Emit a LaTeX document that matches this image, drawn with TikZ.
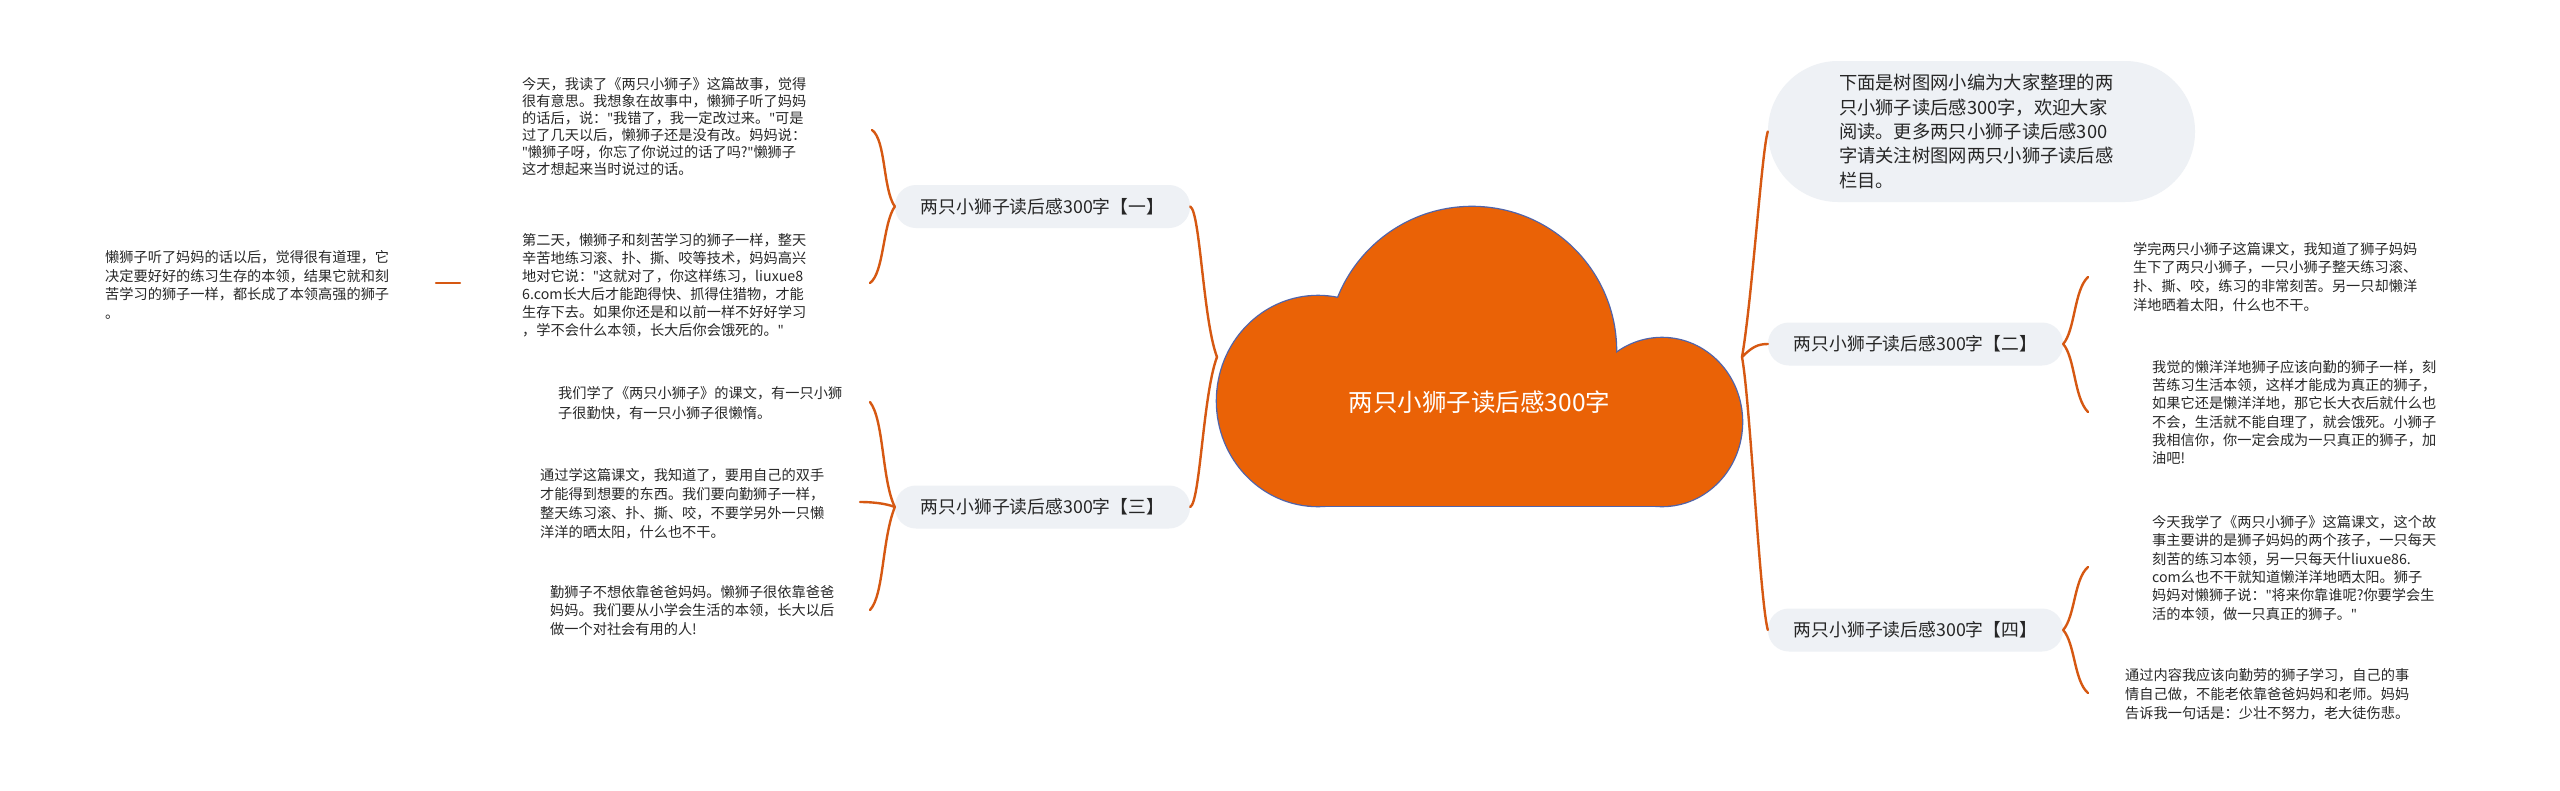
\documentclass[tikz,border=0pt]{standalone}
\usepackage{fontspec}
\setmainfont{Noto Sans CJK SC}
\newfontfamily\latinq{Noto Sans}
\newcommand{\q}{{\latinq"}}
\definecolor{cloudfill}{RGB}{234,98,6}
\definecolor{cloudedge}{RGB}{80,100,170}
\definecolor{connc}{RGB}{214,88,18}
\definecolor{topicfill}{RGB}{238,241,245}
\definecolor{leaftext}{RGB}{40,40,40}
\tikzset{
  leaf/.style={anchor=west, align=left, inner sep=0pt, text=leaftext, font=\fontsize{14.2}{18}\selectfont},
  topic/.style={fill=topicfill, rounded corners=21pt, minimum width=295pt, minimum height=43pt, inner sep=0pt, text=black!85, font=\fontsize{17.8}{22}\selectfont},
  conn/.style={draw=connc, line width=2.4pt, line cap=round},
}
\begin{document}
\begin{tikzpicture}[x=1pt,y=-1pt]
\fill[white] (0,0) rectangle (2560,790);
\useasboundingbox (0,0) rectangle (2560,790);

% ---- cloud (root) ----
\draw[cloudedge, line width=2.6pt] (1318,401) ellipse [x radius=101, y radius=105];
\draw[cloudedge, line width=2.6pt] (1472,351) circle [radius=144];
\draw[cloudedge, line width=2.6pt] (1662,422) ellipse [x radius=80, y radius=84];
\draw[cloudedge, line width=2.6pt] (1318,400) rectangle (1662,506);
\fill[cloudfill] (1318,401) ellipse [x radius=101, y radius=105];
\fill[cloudfill] (1472,351) circle [radius=144];
\fill[cloudfill] (1662,422) ellipse [x radius=80, y radius=84];
\fill[cloudfill] (1318,400) rectangle (1662,506);
\node[text=white, font=\fontsize{24.5}{28}\selectfont, inner sep=0pt] (root) at (1479.5,402) {两只小狮子读后感300字};
\coordinate (tipL) at (1217,357);
\coordinate (tipR) at (1742,357);

% ---- topics ----
\node[topic] (n1) at (1042.5,206.5) {两只小狮子读后感300字【一】};
\node[topic] (n3) at (1042.5,507) {两只小狮子读后感300字【三】};
\node[topic] (n2) at (1915.5,344) {两只小狮子读后感300字【二】};
\node[topic] (n4) at (1915.5,630) {两只小狮子读后感300字【四】};
\node[fill=topicfill, rounded corners=70pt, minimum width=427pt, minimum height=141pt, inner sep=0pt,
      text width=285pt, align=left, text=black!85, font=\fontsize{18.3}{24.4}\selectfont] (intro) at (1981.5,131.5)
  {下面是树图网小编为大家整理的两\\只小狮子读后感300字，欢迎大家\\阅读。更多两只小狮子读后感300\\字请关注树图网两只小狮子读后感\\栏目。};

% ---- leaves ----
\node[leaf, font=\fontsize{14.2}{17}\selectfont] (l1a) at (522,126.5) {今天，我读了《两只小狮子》这篇故事，觉得\\很有意思。我想象在故事中，懒狮子听了妈妈\\的话后，说：\q 我错了，我一定改过来。\q 可是\\过了几天以后，懒狮子还是没有改。妈妈说：\\\q 懒狮子呀，你忘了你说过的话了吗?\q 懒狮子\\这才想起来当时说过的话。};
\node[leaf] (l1b) at (522,285) {第二天，懒狮子和刻苦学习的狮子一样，整天\\辛苦地练习滚、扑、撕、咬等技术，妈妈高兴\\地对它说：\q 这就对了，你这样练习，liuxue8\\6.com长大后才能跑得快、抓得住猎物，才能\\生存下去。如果你还是和以前一样不好好学习\\，学不会什么本领，长大后你会饿死的。\q};
\node[leaf, font=\fontsize{14.2}{18.5}\selectfont] (l0) at (105,285) {懒狮子听了妈妈的话以后，觉得很有道理，它\\决定要好好的练习生存的本领，结果它就和刻\\苦学习的狮子一样，都长成了本领高强的狮子\\。};
\node[leaf, font=\fontsize{14.2}{19.5}\selectfont] (l3a) at (558,403) {我们学了《两只小狮子》的课文，有一只小狮\\子很勤快，有一只小狮子很懒惰。};
\node[leaf, font=\fontsize{14.2}{19}\selectfont] (l3b) at (540,503.5) {通过学这篇课文，我知道了，要用自己的双手\\才能得到想要的东西。我们要向勤狮子一样，\\整天练习滚、扑、撕、咬，不要学另外一只懒\\洋洋的晒太阳，什么也不干。};
\node[leaf, font=\fontsize{14.2}{18.5}\selectfont] (l3c) at (550,610.5) {勤狮子不想依靠爸爸妈妈。懒狮子很依靠爸爸\\妈妈。我们要从小学会生活的本领，长大以后\\做一个对社会有用的人!};
\node[leaf, font=\fontsize{14.2}{18.7}\selectfont] (l2a) at (2133,277) {学完两只小狮子这篇课文，我知道了狮子妈妈\\生下了两只小狮子，一只小狮子整天练习滚、\\扑、撕、咬，练习的非常刻苦。另一只却懒洋\\洋地晒着太阳，什么也不干。};
\node[leaf, font=\fontsize{14.2}{18.2}\selectfont] (l2b) at (2152,412.5) {我觉的懒洋洋地狮子应该向勤的狮子一样，刻\\苦练习生活本领，这样才能成为真正的狮子，\\如果它还是懒洋洋地，那它长大衣后就什么也\\不会，生活就不能自理了，就会饿死。小狮子\\我相信你，你一定会成为一只真正的狮子，加\\油吧!};
\node[leaf, font=\fontsize{14.2}{18.4}\selectfont] (l4a) at (2152,568) {今天我学了《两只小狮子》这篇课文，这个故\\事主要讲的是狮子妈妈的两个孩子，一只每天\\刻苦的练习本领，另一只每天什liuxue86.\\com么也不干就知道懒洋洋地晒太阳。狮子\\妈妈对懒狮子说：\q 将来你靠谁呢?你要学会生\\活的本领，做一只真正的狮子。\q};
\node[leaf, font=\fontsize{14.2}{19}\selectfont] (l4b) at (2125,694) {通过内容我应该向勤劳的狮子学习，自己的事\\情自己做，不能老依靠爸爸妈妈和老师。妈妈\\告诉我一句话是：少壮不努力，老大徒伤悲。};

% ---- arm ends ----
\coordinate (e1a) at (872,130);
\coordinate (e1b) at (870,283);
\coordinate (e3a) at (870,402);
\coordinate (e3b) at (860,502);
\coordinate (e3c) at (870,610);
\coordinate (e2a) at (2088,277);
\coordinate (e2b) at (2088,412);
\coordinate (e4a) at (2088,567);
\coordinate (e4b) at (2088,693);
\coordinate (e0s) at (460,283);
\coordinate (e0t) at (436,283);

% ---- connectors: root ----
\draw[conn] (tipL) .. controls +(-14,-37) and +(10,5) .. (n1.east);
\draw[conn] (tipL) .. controls +(-14,37) and +(10,-5) .. (n3.east);
\draw[conn] (tipR) .. controls +(10,-57) and +(-6,19) .. (intro.west);
\draw[conn] (tipR) .. controls +(10,-10) and +(-10,0) .. (n2.west);
\draw[conn] (tipR) .. controls +(8,43) and +(-8,-30) .. (n4.west);

% ---- connectors: topics to leaves ----
\draw[conn] (n1.west) .. controls +(-12,-17) and +(14,10) .. (e1a);
\draw[conn] (n1.west) .. controls +(-12,17) and +(14,-10) .. (e1b);
\draw[conn] (n3.west) .. controls +(-13,-27) and +(14,18) .. (e3a);
\draw[conn] (n3.west) .. controls +(-10,-4) and +(10,0) .. (e3b);
\draw[conn] (n3.west) .. controls +(-13,33) and +(14,-15) .. (e3c);
\draw[conn] (n2.east) .. controls +(12,-14) and +(-14,13) .. (e2a);
\draw[conn] (n2.east) .. controls +(12,14) and +(-14,-14) .. (e2b);
\draw[conn] (n4.east) .. controls +(12,-14) and +(-14,12) .. (e4a);
\draw[conn] (n4.east) .. controls +(12,14) and +(-14,-12) .. (e4b);
\draw[conn] (e0s) -- (e0t);
\end{tikzpicture}
\end{document}
